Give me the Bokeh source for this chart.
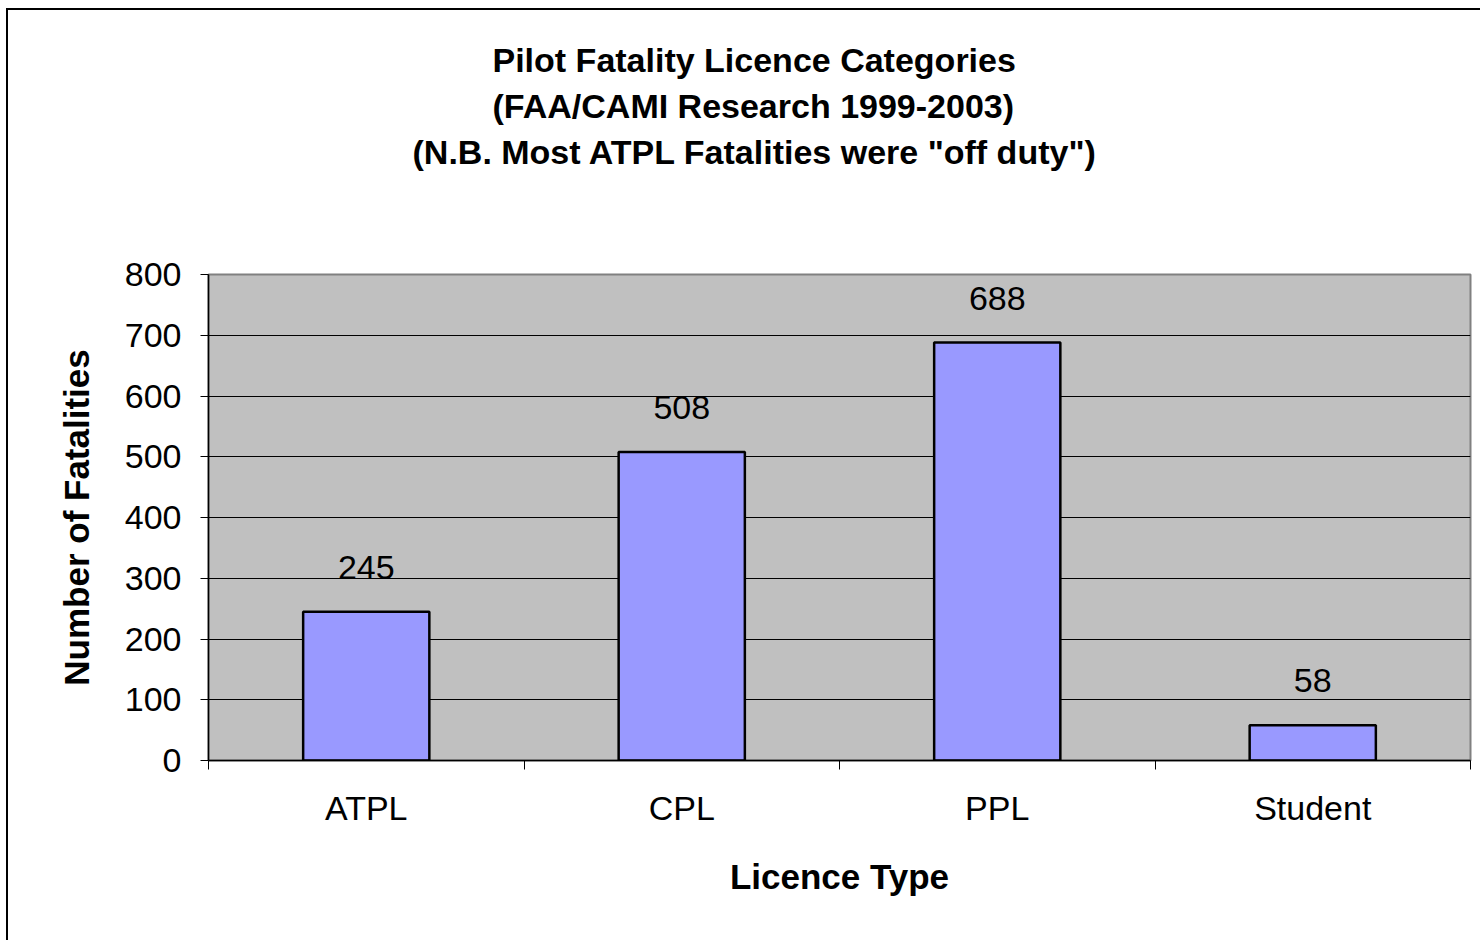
from bokeh.plotting import figure
from bokeh.models import ColumnDataSource, Range1d, FixedTicker, LabelSet, Title
from bokeh.core.properties import value
from bokeh.embed import file_html
from bokeh.resources import INLINE

categories = ["ATPL", "CPL", "PPL", "Student"]
fatalities = [245, 508, 688, 58]
y_ticks = [0, 100, 200, 300, 400, 500, 600, 700, 800]
title_lines = [
    "Pilot Fatality Licence Categories",
    "(FAA/CAMI Research 1999-2003)",
    '(N.B. Most ATPL Fatalities were "off duty")',
]
x_label = "Licence Type"
y_label = "Number of Fatalities"

FONT = "Liberation Sans"
W, H = 1474, 932
n = len(categories)

src = ColumnDataSource(dict(
    x=[i + 0.5 for i in range(n)],
    top=fatalities,
    label=[str(v) for v in fatalities],
    cat=categories,
))

p = figure(width=W, height=H, output_backend="svg", toolbar_location=None,
           x_range=Range1d(0, n), y_range=Range1d(y_ticks[0], y_ticks[-1]),
           min_border_left=200, min_border_top=264, min_border_right=12,
           min_border_bottom=182,
           styles={"border-left": "2px solid black", "border-top": "2px solid black",
                   "margin-left": "6px", "margin-top": "8px"})

p.background_fill_color = "#C0C0C0"
p.border_fill_color = "white"
p.outline_line_color = "#808080"
p.outline_line_width = 2

# invisible spacer between the plot frame and the title block
p.add_layout(Title(text=" ", standoff=97, text_font_size="2px"), "above")

# title lines: added bottom line first (closest to frame)
title_offsets = [284, 284, 204]
for k in [2, 1, 0]:
    t = Title(text=title_lines[k], align="left", offset=title_offsets[k],
              standoff=6, text_font=FONT, text_font_size="34px",
              text_font_style="bold", text_color="black")
    p.add_layout(t, "above")

# grid
p.xgrid.visible = False
p.ygrid.ticker = FixedTicker(ticks=y_ticks)
p.ygrid.grid_line_color = "black"
p.ygrid.grid_line_width = 1
p.ygrid.grid_line_alpha = 1

# y axis
p.yaxis.ticker = FixedTicker(ticks=y_ticks)
p.yaxis.axis_label = y_label
p.yaxis.axis_label_text_font = FONT
p.yaxis.axis_label_text_font_size = "35px"
p.yaxis.axis_label_text_font_style = "bold"
p.yaxis.axis_label_text_color = "black"
p.yaxis.axis_label_standoff = 26
p.yaxis.major_label_text_font = FONT
p.yaxis.major_label_text_font_size = "34px"
p.yaxis.major_label_text_color = "black"
p.yaxis.major_label_standoff = 19
p.yaxis.major_tick_in = 0
p.yaxis.major_tick_out = 8
p.yaxis.major_tick_line_color = "black"
p.yaxis.minor_tick_line_color = None
p.yaxis.axis_line_color = "black"
p.yaxis.axis_line_width = 1.5

# x axis
p.xaxis.ticker = FixedTicker(ticks=[i + 0.5 for i in range(n)],
                             minor_ticks=list(range(n + 1)))
p.xaxis.major_label_overrides = {i + 0.5: c for i, c in enumerate(categories)}
p.xaxis.axis_label = x_label
p.xaxis.axis_label_text_font = FONT
p.xaxis.axis_label_text_font_size = "35px"
p.xaxis.axis_label_text_font_style = "bold"
p.xaxis.axis_label_text_color = "black"
p.xaxis.axis_label_standoff = 27
p.xaxis.major_label_text_font = FONT
p.xaxis.major_label_text_font_size = "34px"
p.xaxis.major_label_text_color = "black"
p.xaxis.major_label_standoff = 19
p.xaxis.major_tick_line_color = None
p.xaxis.major_tick_in = 0
p.xaxis.major_tick_out = 0
p.xaxis.minor_tick_in = 0
p.xaxis.minor_tick_out = 9
p.xaxis.minor_tick_line_color = "black"
p.xaxis.axis_line_color = "black"
p.xaxis.axis_line_width = 1.5

p.vbar(x="x", top="top", width=0.4, source=src, fill_color="#9999FF",
       line_color="black", line_width=2.5)

labels = LabelSet(x="x", y="top", text="label", source=src, text_align="center",
                  text_baseline="alphabetic", y_offset=33,
                  text_font=value(FONT), text_font_size=value("34px"),
                  text_color="black")
p.add_layout(labels)

open("out.html", "w").write(file_html(p, INLINE))
